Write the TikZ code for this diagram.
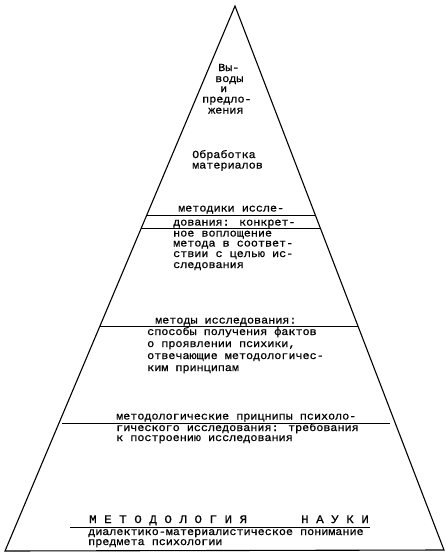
\documentclass[tikz,border=0pt]{standalone}
\usepackage{fontspec}
\newfontfamily\tw[FakeStretch=1.09,FakeBold=0.6]{Liberation Mono}
\tikzset{
  tl/.style={anchor=base west, inner sep=0pt, font=\tw\fontsize{10.8}{10}\selectfont},
  edge/.style={line width=1.1pt, line join=miter},
  rule/.style={line width=0.9pt}
}
\begin{document}
\begin{tikzpicture}[x=1pt,y=-1pt]
\useasboundingbox (0,0) rectangle (446,554);
% pyramid
\coordinate (apex) at (235,6);
\coordinate (bl) at (5,551);
\coordinate (br) at (444,550);
\draw[edge] (apex) -- (bl) -- (br) -- cycle;
% horizontal rules
\coordinate (r1a) at (146.8,215); \coordinate (r1b) at (315.1,215);
\coordinate (r2a) at (141.3,228); \coordinate (r2b) at (320.1,228);
\coordinate (r3a) at (100,326);   \coordinate (r3b) at (357.7,326);
\coordinate (r4a) at (62,423);    \coordinate (r4b) at (390,423);
\coordinate (r5a) at (70,527);    \coordinate (r5b) at (370,527);
\draw[rule] (r1a) -- (r1b);
\draw[rule] (r2a) -- (r2b);
\draw[rule] (r3a) -- (r3b);
\draw[rule] (r4a) -- (r4b);
\draw[rule] (r5a) -- (r5b);
% top block
\node[tl] (v1) at (218,71) {Вы-};
\node[tl] (v2) at (215,82) {воды};
\node[tl] (v3) at (220,92) {и};
\node[tl] (v4) at (202,102.5) {предло-};
\node[tl] (v5) at (208,113.5) {жения};
% processing
\node[tl] (o1) at (192,158) {Обработка};
\node[tl] (o2) at (192,168.5) {материалов};
% techniques
\node[tl] (t1) at (178,211.5) {методики иссле-};
\node[tl] (t2) at (173,225.5) {дования: конкрет-};
\node[tl] (t3) at (173,236.5) {ное воплощение};
\node[tl] (t4) at (173,246.5) {метода в соответ-};
\node[tl] (t5) at (173,257) {ствии с целью ис-};
\node[tl] (t6) at (173,268) {следования};
% methods
\node[tl] (m1) at (155,323.5) {методы исследования:};
\node[tl] (m2) at (147,335) {способы получения фактов};
\node[tl] (m3) at (147,347) {о проявлении психики,};
\node[tl] (m4) at (147,359) {отвечающие методологичес-};
\node[tl] (m5) at (147,371) {ким принципам};
% principles
\node[tl] (p1) at (116,419.5) {методологические прицнипы психоло-};
\node[tl] (p2) at (116,431) {гического исследования: требования};
\node[tl] (p3) at (116,441) {к построению исследования};
% methodology
\node[tl,font=\tw\fontsize{11.5}{11}\selectfont] (n1) at (89,523) {М Е Т О Д О Л О Г И Я\hspace{54pt}Н А У К И};
\node[tl] (n2) at (88,535) {диалектико-материалистическое понимание};
\node[tl] (n3) at (88,545) {предмета психологии};
\end{tikzpicture}
\end{document}
